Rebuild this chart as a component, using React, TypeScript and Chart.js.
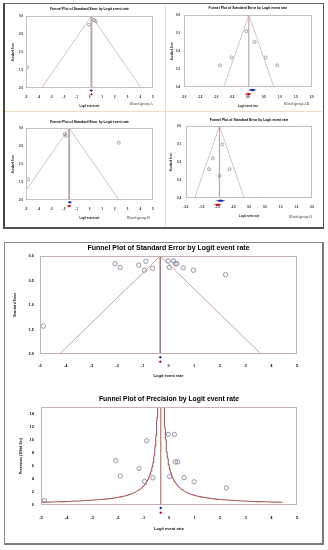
import React, { useEffect, useRef } from "react";
import { Chart, registerables } from "chart.js";
Chart.register(...registerables);

const SANS = "Arial, 'Liberation Sans', Helvetica, sans-serif";
const SERIF = "'Times New Roman', 'Liberation Serif', serif";

// ---------- tick labels ----------
const xTicksWide = [-5, -4, -3, -2, -1, 0, 1, 2, 3, 4, 5];
const xTicksNarrow = [-2, -1.5, -1, -0.5, 0, 0.5, 1, 1.5, 2];
const seTicksWide = [0, 0.5, 1, 1.5, 2];
const seTicksNarrow = [0, 0.1, 0.2, 0.3, 0.4];
const precisionTicks = [0, 2, 4, 6, 8, 10, 12, 14];

// ---------- Blood group A ----------
const groupALogit = [0.35, 0.5, -0.05, -4.9];
const groupASE = [0.11, 0.15, 0.24, 1.42];
const groupACenter = 0.15;
const groupAFixed = [0.13, -0.02, 0.28]; // estimate, lower, upper
const groupARandom = [0.15, 0.05, 0.25];

// ---------- Blood group AB ----------
const groupABLogit = [-0.87, -0.51, -0.05, 0.21, 0.56, 0.92];
const groupABSE = [0.28, 0.236, 0.09, 0.15, 0.236, 0.28];
const groupABCenter = 0.03;
const groupABFixed = [0.14, 0.0, 0.28];
const groupABRandom = [0.02, -0.1, 0.13];

// ---------- Blood group B ----------
const groupBLogit = [-1.94, -1.86, 2.3, -4.82];
const groupBSE = [0.17, 0.22, 0.41, 1.43];
const groupBCenter = -1.6;
const groupBFixed = [-1.55, -1.73, -1.36];
const groupBRandom = [-1.6, -1.8, -1.41];

// ---------- Blood group O ----------
const groupOLogit = [-0.85, -1.15, -1.27, -0.62, -0.94];
const groupOSE = [0.103, 0.18, 0.24, 0.24, 0.277];
const groupOCenter = -0.94;
const groupOFixed = [-0.9, -1.06, -0.75];
const groupORandom = [-0.99, -1.12, -0.86];

// ---------- All studies ----------
const allLogit = [-2.08, -1.88, -1.16, -0.88, -0.94, -0.62, -0.01, 0.03, 0.2, 0.27, 0.33, 0.57, 0.97, 2.22, -4.87];
const allSE = [0.157, 0.233, 0.185, 0.11, 0.29, 0.25, 0.1, 0.233, 0.1, 0.157, 0.157, 0.24, 0.29, 0.38, 1.43];
const allCenter = -0.32;
const allFixed = [-0.32, -0.36, -0.28];
const allRandom = [-0.32, -0.37, -0.27];

const precLogit = [-4.87, -2.08, -1.9, -1.17, -0.87, -0.95, -0.63, -0.03, 0.03, 0.21, 0.25, 0.34, 0.59, 0.98, 2.24];
const precValues = [0.67, 6.8, 4.43, 5.6, 9.83, 3.6, 4.17, 10.8, 4.37, 10.8, 6.6, 6.6, 4.2, 3.55, 2.62];

// ---------- helpers ----------
const BLUE = "#1c2aa8";
const RED = "#c8141c";

const pts = (xs: number[], ys: number[]) => xs.map((x, i) => ({ x, y: ys[i] }));

function circles(xs: number[], ys: number[], r: number, color: string) {
  return {
    data: pts(xs, ys),
    showLine: false,
    pointStyle: "circle",
    pointRadius: r,
    pointBorderWidth: 0.8,
    pointBorderColor: color,
    pointBackgroundColor: "rgba(0,0,0,0)",
    borderColor: color,
    backgroundColor: "rgba(0,0,0,0)",
  };
}

function line(data: { x: number; y: number }[], color: string, width: number) {
  return {
    data,
    showLine: true,
    pointRadius: 0,
    borderColor: color,
    borderWidth: width,
    backgroundColor: "rgba(0,0,0,0)",
    fill: false,
    tension: 0,
  };
}

// funnel limits (pseudo 95% CI) for the standard-error plot
function seFunnel(center: number, seMax: number, color: string, width: number, vColor: string, vWidth: number) {
  return [
    line([{ x: center - 1.96 * seMax, y: seMax }, { x: center, y: 0 }, { x: center + 1.96 * seMax, y: seMax }], color, width),
    line([{ x: center, y: 0 }, { x: center, y: seMax }], vColor, vWidth),
  ];
}

const decorPlugin = {
  id: "funnelDecor",
  afterDatasetsDraw(chart: any, _args: any, opts: any) {
    const { ctx, chartArea: a, scales } = chart;
    ctx.save();
    ctx.strokeStyle = opts.frame;
    ctx.lineWidth = 1;
    ctx.strokeRect(Math.round(a.left) + 0.5, Math.round(a.top) + 0.5, Math.round(a.right - a.left) - 1, Math.round(a.bottom - a.top) - 1);
    for (const s of opts.summaries || []) {
      const [est, lo, hi] = s.values;
      const xc = scales.x.getPixelForValue(est);
      const xl = Math.min(scales.x.getPixelForValue(lo), xc - opts.minW);
      const xr = Math.max(scales.x.getPixelForValue(hi), xc + opts.minW);
      const yc = a.bottom + s.offset;
      const h = opts.h;
      ctx.beginPath();
      ctx.moveTo(xl, yc);
      ctx.lineTo(xc, yc - h);
      ctx.lineTo(xr, yc);
      ctx.lineTo(xc, yc + h);
      ctx.closePath();
      ctx.fillStyle = s.color;
      ctx.fill();
    }
    ctx.restore();
  },
};

type Spec = {
  id: string;
  canvas: number[];
  plot: number[];
  title: string;
  titleY: number;
  titleSize: number;
  xTickY: number;
  tickSize: number;
  xTitleY: number;
  xTitleSize: number;
  yTitle: string;
  yTitleX: number;
  yTitleSize: number;
  yTickRight: number;
  xRange: number[];
  xTicks: number[];
  xDec: number;
  yRange: number[];
  yTicks: number[];
  yDec: number;
  reverse: boolean;
  datasets: any[];
  summaries: { values: number[]; color: string; offset: number }[];
  diamondH: number;
  minW: number;
  frame: string;
};

function FunnelChart({ spec }: { spec: Spec }) {
  const ref = useRef<HTMLCanvasElement>(null);
  const [cx, cy, cw, ch] = spec.canvas;
  useEffect(() => {
    const s = spec;
    const [pl, pt, pr, pb] = s.plot;
    const lh = (n: number) => n * 1.2;
    const titlePadTop = s.titleY - cy - lh(s.titleSize) / 2;
    const titlePadBottom = pt - cy - lh(s.titleSize) - titlePadTop;
    const xHeight = cy + ch - pb;
    const xTickPad = s.xTickY - pb - lh(s.tickSize) / 2;
    const xTitlePad = cy + ch - s.xTitleY - lh(s.xTitleSize) / 2;
    const yWidth = pl - cx;
    const padRight = cx + cw - pr;
    const yTitlePad = s.yTitleX - cx - lh(s.yTitleSize) / 2;
    const yTickPad = pl - s.yTickRight;
    const tickFont = { family: SANS, size: s.tickSize, weight: "bold" as const };
    const chart = new Chart(ref.current as HTMLCanvasElement, {
      type: "scatter",
      data: { datasets: s.datasets },
      options: {
        animation: false,
        responsive: false,
        devicePixelRatio: 1,
        events: [],
        layout: { padding: { left: 0, top: 0, right: padRight, bottom: 0 } },
        plugins: {
          legend: { display: false },
          tooltip: { enabled: false },
          title: {
            display: true,
            text: s.title,
            fullSize: false,
            color: "#000",
            font: { family: SANS, size: s.titleSize, weight: "bold" },
            padding: { top: titlePadTop, bottom: titlePadBottom },
          },
          funnelDecor: { frame: s.frame, summaries: s.summaries, h: s.diamondH, minW: s.minW },
        } as any,
        scales: {
          x: {
            type: "linear",
            min: s.xRange[0],
            max: s.xRange[1],
            grid: { display: false, drawTicks: false },
            border: { display: false },
            afterBuildTicks: (sc: any) => {
              sc.ticks = s.xTicks.map((v) => ({ value: v }));
            },
            afterFit: (sc: any) => {
              sc.height = xHeight;
            },
            ticks: {
              autoSkip: false,
              maxRotation: 0,
              padding: xTickPad,
              color: "#111",
              font: tickFont,
              callback: (v: any) => Number(v).toFixed(s.xDec),
            },
            title: {
              display: true,
              text: "Logit event rate",
              color: "#111",
              font: { family: SANS, size: s.xTitleSize, weight: "bold" },
              padding: { top: 0, bottom: xTitlePad },
            },
          },
          y: {
            type: "linear",
            min: s.yRange[0],
            max: s.yRange[1],
            reverse: s.reverse,
            grid: { display: false, drawTicks: false },
            border: { display: false },
            afterBuildTicks: (sc: any) => {
              sc.ticks = s.yTicks.map((v) => ({ value: v }));
            },
            afterFit: (sc: any) => {
              sc.width = yWidth;
            },
            ticks: {
              autoSkip: false,
              padding: yTickPad,
              color: "#111",
              font: tickFont,
              callback: (v: any) => Number(v).toFixed(s.yDec),
            },
            title: {
              display: true,
              text: s.yTitle,
              color: "#111",
              font: { family: SANS, size: s.yTitleSize, weight: "bold" },
              padding: { top: yTitlePad, bottom: 0 },
            },
          },
        } as any,
      },
      plugins: [decorPlugin as any],
    });
    return () => chart.destroy();
  }, [spec]);
  return (
    <canvas
      ref={ref}
      width={cw}
      height={ch}
      style={{ position: "absolute", left: cx, top: cy, width: cw, height: ch }}
    />
  );
}

const PANEL_LINE = "#cdb3b3";
const PANEL_V = "#b9abab";
const PANEL_PT = "#8a8aa6";
const SE_TITLE = "Funnel Plot of Standard Error by Logit event rate";

const smallCommon = {
  title: SE_TITLE,
  titleSize: 3.4,
  tickSize: 2.8,
  xTitleSize: 2.7,
  yTitle: "Standard Error",
  yTitleSize: 2.6,
  reverse: true,
  diamondH: 1.2,
  minW: 1.5,
  frame: "#c9bcbc",
};

const precP = Array.from({ length: 80 }, (_, i) => 0.28 * Math.pow(22 / 0.28, i / 79));

const specs: Spec[] = [
  {
    ...smallCommon,
    id: "A",
    canvas: [5, 4, 158, 106],
    plot: [26, 16, 153, 88],
    titleY: 9.5,
    xTickY: 97.5,
    xTitleY: 106.5,
    yTitleX: 13,
    yTickRight: 23,
    xRange: [-5, 5],
    xTicks: xTicksWide,
    xDec: 0,
    yRange: [0, 2],
    yTicks: seTicksWide,
    yDec: 1,
    datasets: [circles(groupALogit, groupASE, 1.5, PANEL_PT), ...seFunnel(groupACenter, 2, PANEL_LINE, 0.8, PANEL_V, 2)],
    summaries: [
      { values: groupAFixed, color: BLUE, offset: 2.5 },
      { values: groupARandom, color: RED, offset: 6.3 },
    ],
  },
  {
    ...smallCommon,
    id: "AB",
    canvas: [166, 4, 156, 106],
    plot: [184, 15, 314, 87],
    titleY: 8.5,
    xTickY: 97,
    xTitleY: 106,
    yTitleX: 172,
    yTickRight: 180,
    xRange: [-2, 2],
    xTicks: xTicksNarrow,
    xDec: 1,
    yRange: [0, 0.4],
    yTicks: seTicksNarrow,
    yDec: 1,
    datasets: [circles(groupABLogit, groupABSE, 1.5, PANEL_PT), ...seFunnel(groupABCenter, 0.4, PANEL_LINE, 0.8, PANEL_V, 1.2)],
    summaries: [
      { values: groupABFixed, color: BLUE, offset: 3 },
      { values: groupABRandom, color: RED, offset: 7 },
    ],
  },
  {
    ...smallCommon,
    id: "B",
    canvas: [5, 112, 158, 117],
    plot: [26, 128, 153, 200],
    titleY: 122,
    xTickY: 209,
    xTitleY: 218,
    yTitleX: 13,
    yTickRight: 23,
    xRange: [-5, 5],
    xTicks: xTicksWide,
    xDec: 0,
    yRange: [0, 2],
    yTicks: seTicksWide,
    yDec: 1,
    datasets: [circles(groupBLogit, groupBSE, 1.5, PANEL_PT), ...seFunnel(groupBCenter, 2, PANEL_LINE, 0.8, PANEL_V, 2)],
    summaries: [
      { values: groupBFixed, color: BLUE, offset: 2.3 },
      { values: groupBRandom, color: RED, offset: 6 },
    ],
  },
  {
    ...smallCommon,
    id: "O",
    canvas: [166, 112, 156, 117],
    plot: [186, 126, 314, 198],
    titleY: 120,
    xTickY: 207.5,
    xTitleY: 216,
    yTitleX: 171,
    yTickRight: 181,
    xRange: [-2, 2],
    xTicks: xTicksNarrow,
    xDec: 1,
    yRange: [0, 0.4],
    yTicks: seTicksNarrow,
    yDec: 1,
    datasets: [circles(groupOLogit, groupOSE, 1.5, PANEL_PT), ...seFunnel(groupOCenter, 0.4, PANEL_LINE, 0.8, PANEL_V, 1.2)],
    summaries: [
      { values: groupOFixed, color: BLUE, offset: 2.7 },
      { values: groupORandom, color: RED, offset: 6.7 },
    ],
  },
  {
    id: "all",
    canvas: [6, 243, 315, 139],
    plot: [40, 256, 297, 354],
    title: SE_TITLE,
    titleY: 248,
    titleSize: 7,
    xTickY: 366,
    tickSize: 4,
    xTitleY: 376,
    xTitleSize: 4,
    yTitle: "Standard Error",
    yTitleX: 15,
    yTitleSize: 3.4,
    yTickRight: 34,
    xRange: [-5, 5],
    xTicks: xTicksWide,
    xDec: 0,
    yRange: [0, 2],
    yTicks: seTicksWide,
    yDec: 1,
    reverse: true,
    datasets: [circles(allLogit, allSE, 2.2, "#7c7c98"), ...seFunnel(allCenter, 2, "#c49a9a", 0.9, "#a07c7c", 1)],
    summaries: [
      { values: allFixed, color: BLUE, offset: 3.3 },
      { values: allRandom, color: RED, offset: 7.7 },
    ],
    diamondH: 1.5,
    minW: 1.6,
    frame: "#c4b0b0",
  },
  {
    id: "prec",
    canvas: [6, 383, 315, 157],
    plot: [41, 407, 297, 505],
    title: "Funnel Plot of Precision by Logit event rate",
    titleY: 399,
    titleSize: 6.8,
    xTickY: 518,
    tickSize: 4,
    xTitleY: 529,
    xTitleSize: 4,
    yTitle: "Precision (1/Std Err)",
    yTitleX: 21,
    yTitleSize: 3.8,
    yTickRight: 34,
    xRange: [-5, 5],
    xTicks: xTicksWide,
    xDec: 0,
    yRange: [0, 15],
    yTicks: precisionTicks,
    yDec: 0,
    reverse: false,
    datasets: [
      circles(precLogit, precValues, 2.2, "#7c7c98"),
      line(precP.map((p) => ({ x: allCenter - 1.96 / p, y: p })), "#a85a5a", 1.1),
      line(precP.filter((p) => p >= 0.393).map((p) => ({ x: allCenter + 1.96 / p, y: p })), "#a85a5a", 1.1),
      line([{ x: allCenter, y: 0 }, { x: allCenter, y: 15 }], "#a85a5a", 1),
    ],
    summaries: [
      { values: allFixed, color: BLUE, offset: 3 },
      { values: allRandom, color: RED, offset: 7.7 },
    ],
    diamondH: 1.5,
    minW: 1.6,
    frame: "#c4b0b0",
  },
];

const groupLabels = [
  { text: "Blood group A", left: 130, top: 104 },
  { text: "Blood group AB", left: 284, top: 104 },
  { text: "Blood group B", left: 127, top: 218 },
  { text: "Blood group O", left: 289, top: 217 },
];

export default function App() {
  return (
    <div style={{ position: "absolute", left: 0, top: 0, width: 328, height: 550, background: "#fff", overflow: "hidden" }}>
      {/* top figure frame */}
      <div
        style={{
          position: "absolute",
          left: 3,
          top: 3,
          width: 321,
          height: 226,
          boxSizing: "border-box",
          borderTop: "1px solid #666",
          borderRight: "1.5px solid #555",
          borderBottom: "2px solid #555",
          borderLeft: "2px solid #444",
        }}
      />
      <div style={{ position: "absolute", left: 165, top: 5, width: 1, height: 222, background: "#f2dcc6" }} />
      <div style={{ position: "absolute", left: 5, top: 111, width: 317, height: 1, background: "#f2dcc6" }} />
      {/* bottom figure frame */}
      <div
        style={{
          position: "absolute",
          left: 4,
          top: 242,
          width: 320,
          height: 303,
          boxSizing: "border-box",
          borderTop: "1px solid #8a8a8a",
          borderLeft: "1px solid #8a8a8a",
          borderRight: "2px solid #7a7a7a",
          borderBottom: "2px solid #7a7a7a",
        }}
      />
      {specs.map((s) => (
        <FunnelChart key={s.id} spec={s} />
      ))}
      {groupLabels.map((g) => (
        <div
          key={g.text}
          style={{
            position: "absolute",
            left: g.left,
            top: g.top - 4,
            fontFamily: SERIF,
            fontSize: 8,
            lineHeight: "8px",
            color: "#333",
            whiteSpace: "nowrap",
            transform: "scale(0.48)",
            transformOrigin: "left center",
          }}
        >
          {g.text}
        </div>
      ))}
    </div>
  );
}
